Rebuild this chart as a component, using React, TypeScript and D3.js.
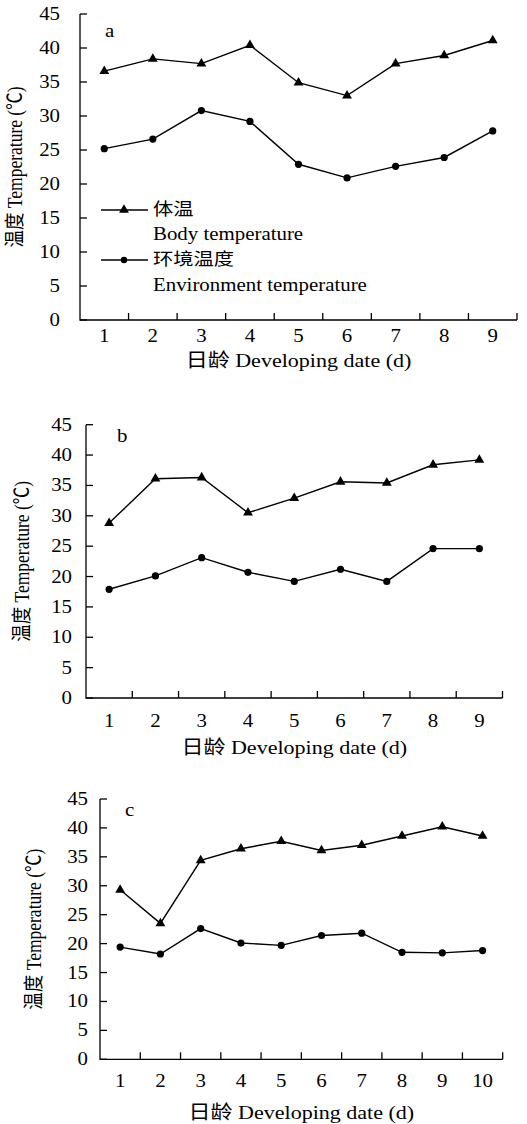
import React from 'react';
import * as d3 from 'd3';

// days on the x axis
const daysAB = ['1', '2', '3', '4', '5', '6', '7', '8', '9'];
const daysC = ['1', '2', '3', '4', '5', '6', '7', '8', '9', '10'];

// temperatures (°C)
const bodyA = [36.6, 38.4, 37.7, 40.4, 34.9, 33.0, 37.7, 38.9, 41.1];
const envA = [25.2, 26.6, 30.8, 29.2, 22.9, 20.9, 22.6, 23.9, 27.8];

const bodyB = [28.8, 36.1, 36.3, 30.5, 32.9, 35.6, 35.4, 38.4, 39.2];
const envB = [17.9, 20.1, 23.1, 20.7, 19.2, 21.2, 19.2, 24.6, 24.6];

const bodyC = [29.3, 23.5, 34.4, 36.4, 37.7, 36.1, 37.0, 38.6, 40.2, 38.6];
const envC = [19.4, 18.2, 22.6, 20.1, 19.7, 21.4, 21.8, 18.5, 18.4, 18.8];

const yTicks = [0, 5, 10, 15, 20, 25, 30, 35, 40, 45];

const yTitle = '温度 Temperature (℃)';
const xTitle = '日龄 Developing date (d)';
const legendLabels = [
  ['体温', 'Body temperature'],
  ['环境温度', 'Environment temperature'],
];

const FONT = '"Liberation Serif", "Times New Roman", "Noto Sans CJK SC", serif';
const SX = 1.16; // the original figure is a bit stretched sideways

const tri = d3.symbol().type(d3.symbolTriangle).size(42)();

function Txt({ x, y, size, anchor = 'start', rotate = 0, children }) {
  return (
    <text
      transform={`translate(${x},${y}) scale(${SX},1)${rotate ? ` rotate(${rotate})` : ''}`}
      fontFamily={FONT}
      fontSize={size}
      textAnchor={anchor}
      fill="#000"
    >
      {children}
    </text>
  );
}

function Panel({ days, body, env, letter, left, right, top, bottom, tickRight, yLabelX, letterX, letterY, tickY, titleY, legend }) {
  const x = d3.scaleBand().domain(days).range([left, right]).paddingInner(0).paddingOuter(0);
  const y = d3.scaleLinear().domain([0, 45]).range([bottom, top]);
  const cx = (d) => x(d) + x.bandwidth() / 2;

  const line = d3.line()
    .x((d, i) => cx(days[i]))
    .y((d) => y(d));

  const bounds = days.map((d) => x(d) + x.bandwidth());

  return (
    <g>
      {/* axes */}
      <path d={`M${left},${y(45)}V${bottom}H${right}`} fill="none" stroke="#000" strokeWidth={1.3} />
      {yTicks.map((t) => (
        <g key={'y' + t}>
          <line x1={left} x2={left + 7} y1={y(t)} y2={y(t)} stroke="#000" strokeWidth={1.3} />
          <Txt x={tickRight} y={y(t) + 6} size={18} anchor="end">{t}</Txt>
        </g>
      ))}
      {bounds.map((b, i) => (
        <line key={'xt' + i} x1={b} x2={b} y1={bottom} y2={bottom - 7} stroke="#000" strokeWidth={1.3} />
      ))}
      {days.map((d) => (
        <Txt key={'xl' + d} x={cx(d)} y={tickY} size={18} anchor="middle">{d}</Txt>
      ))}
      <Txt x={(left + right) / 2} y={titleY} size={19} anchor="middle">{xTitle}</Txt>
      <Txt x={yLabelX + 6} y={(top + bottom) / 2} size={17.5} anchor="middle" rotate={-90}>{yTitle}</Txt>
      <Txt x={letterX} y={letterY} size={18}>{letter}</Txt>

      {/* series */}
      <path d={line(body)} fill="none" stroke="#000" strokeWidth={1.4} />
      <path d={line(env)} fill="none" stroke="#000" strokeWidth={1.4} />
      {body.map((v, i) => (
        <path key={'b' + i} d={tri} transform={`translate(${cx(days[i])},${y(v)})`} fill="#000" />
      ))}
      {env.map((v, i) => (
        <circle key={'e' + i} cx={cx(days[i])} cy={y(v)} r={3.6} fill="#000" />
      ))}

      {legend && (
        <g>
          <line x1={101} x2={148} y1={210} y2={210} stroke="#000" strokeWidth={1.3} />
          <path d={tri} transform="translate(124,210)" fill="#000" />
          <Txt x={153} y={215} size={17.5}>{legendLabels[0][0]}</Txt>
          <Txt x={153} y={240} size={18}>{legendLabels[0][1]}</Txt>
          <line x1={101} x2={148} y1={260} y2={260} stroke="#000" strokeWidth={1.3} />
          <circle cx={124} cy={260} r={3.2} fill="#000" />
          <Txt x={153} y={265} size={17.5}>{legendLabels[1][0]}</Txt>
          <Txt x={153} y={291} size={18}>{legendLabels[1][1]}</Txt>
        </g>
      )}
    </g>
  );
}

export default function App() {
  return (
    <svg
      width={527}
      height={1124}
      style={{ position: 'absolute', left: 0, top: 0, background: '#fff' }}
    >
      <Panel days={daysAB} body={bodyA} env={envA} letter="a"
        left={80} right={517} top={14} bottom={320} tickRight={60}
        yLabelX={16} letterX={105} letterY={36.5} tickY={342} titleY={367} legend />
      <Panel days={daysAB} body={bodyB} env={envB} letter="b"
        left={86} right={502.5} top={424.7} bottom={698} tickRight={72}
        yLabelX={23} letterX={117} letterY={442} tickY={727} titleY={754} />
      <Panel days={daysC} body={bodyC} env={envC} letter="c"
        left={100} right={502.7} top={799} bottom={1059.3} tickRight={88}
        yLabelX={35} letterX={125} letterY={816} tickY={1087} titleY={1119} />
    </svg>
  );
}
